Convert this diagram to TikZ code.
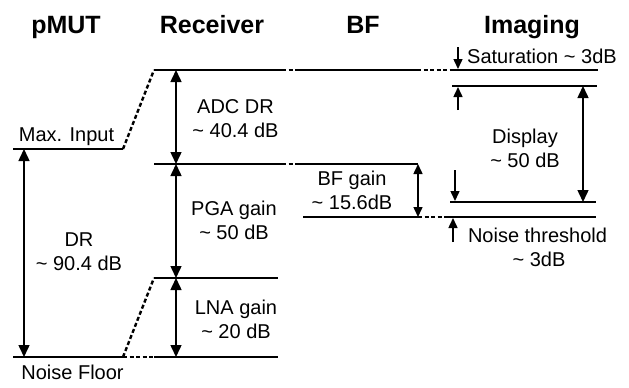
\documentclass[tikz,border=0pt]{standalone}
\usepackage{fontspec}
\setmainfont{Liberation Sans}
\usetikzlibrary{arrows.meta}
\begin{document}
\begin{tikzpicture}[x=1pt,y=-1pt,
  lvl/.style={line width=2.4pt},
  gapline/.style={line width=2.4pt, dash pattern=on 4pt off 2.5pt},
  dim/.style={line width=1.5pt, {Triangle[length=12pt,width=11pt]}-{Triangle[length=12pt,width=11pt]}},
  smalldim/.style={line width=1.5pt, {Triangle[length=10pt,width=9pt]}-{Triangle[length=10pt,width=9pt]}},
  ptr/.style={line width=1.5pt, -{Triangle[length=10pt,width=9pt]}},
  lbl/.style={font=\fontsize{20}{24}\selectfont, inner sep=0pt, anchor=base},
  hdr/.style={font=\bfseries\fontsize{25}{30}\selectfont, inner sep=0pt, anchor=base}]
\useasboundingbox (0,0) rectangle (629,388);

% level end points
\coordinate (maxL) at (13,149);   \coordinate (maxR) at (123,149);
\coordinate (nfL) at (13,357);    \coordinate (nfR) at (123,357);
\coordinate (rxTopL) at (154,70); \coordinate (rxTopR) at (282,70);
\coordinate (bfTopL) at (299,70); \coordinate (bfTopR) at (417,70);
\coordinate (satL) at (452,70);   \coordinate (satR) at (598,70);
\coordinate (imHiL) at (452,86);  \coordinate (imHiR) at (597,86);
\coordinate (rxMidL) at (154,164);\coordinate (rxMidR) at (282,164);
\coordinate (bfHiL) at (299,164); \coordinate (bfHiR) at (418,164);
\coordinate (imLoL) at (450,202); \coordinate (imLoR) at (596,202);
\coordinate (bfLoL) at (303,217); \coordinate (bfLoR) at (418,217);
\coordinate (ntL) at (447,217);   \coordinate (ntR) at (596,217);
\coordinate (lnaL) at (154,278);  \coordinate (lnaR) at (278,278);
\coordinate (rxBotL) at (154,357);\coordinate (rxBotR) at (278,357);

% arrow end points
\coordinate (drT) at (24,149);   \coordinate (drB) at (24,357);
\coordinate (adcT) at (176,70);  \coordinate (adcB) at (176,164);
\coordinate (pgaB) at (176,278); \coordinate (lnaB) at (176,357);
\coordinate (dispT) at (583,86); \coordinate (dispB) at (583,202);
\coordinate (satTail) at (458,47);  \coordinate (satTip) at (458,69);
\coordinate (hiTail) at (458,110);  \coordinate (hiTip) at (458,87);
\coordinate (loTail) at (455,170);  \coordinate (loTip) at (455,201);
\coordinate (ntTail) at (453,242);  \coordinate (ntTip) at (453,218);

% solid levels
\draw[lvl] (maxL) -- (maxR);
\draw[lvl] (nfL) -- (nfR);
\draw[lvl] (rxTopL) -- (rxTopR);
\draw[lvl] (bfTopL) -- (bfTopR);
\draw[lvl] (satL) -- (satR);
\draw[lvl] (imHiL) -- (imHiR);
\draw[lvl] (rxMidL) -- (rxMidR);
\draw[lvl] (bfHiL) -- (bfHiR);
\draw[lvl] (imLoL) -- (imLoR);
\draw[lvl] (bfLoL) -- (bfLoR);
\draw[lvl] (ntL) -- (ntR);
\draw[lvl] (lnaL) -- (lnaR);
\draw[lvl] (rxBotL) -- (rxBotR);

% dashed links
\draw[gapline] (maxR) -- (rxTopL);
\draw[gapline] (nfR) -- (lnaL);
\draw[gapline] (nfR) -- (rxBotL);
\draw[gapline] (rxTopR) -- (bfTopL);
\draw[gapline] (bfTopR) -- (satL);
\draw[gapline] (rxMidR) -- (bfHiL);
\draw[gapline] (bfLoR) -- (ntL);

% dimension arrows
\draw[dim] (drT) -- (drB);
\draw[dim] (adcT) -- (adcB);
\draw[dim] (adcB) -- (pgaB);
\draw[dim] (pgaB) -- (lnaB);
\draw[smalldim] (bfHiR) -- (bfLoR);
\draw[dim] (dispT) -- (dispB);
\draw[ptr] (satTail) -- (satTip);
\draw[ptr] (hiTail) -- (hiTip);
\draw[ptr] (loTail) -- (loTip);
\draw[ptr] (ntTail) -- (ntTip);

% headers
\node[hdr] (hPmut) at (66,33) {pMUT};
\node[hdr] (hRx) at (212,33) {Receiver};
\node[hdr] (hBf) at (363,33) {BF};
\node[hdr] (hImg) at (532,33) {Imaging};

% labels
\node[lbl] (tMax) at (66.5,141) {Max. Input};
\node[lbl] (tNf) at (72.5,379) {Noise Floor};
\node[lbl] (tDr1) at (79,246) {DR};
\node[lbl] (tDr2) at (79,270) {\textasciitilde{} 90.4 dB};
\node[lbl] (tAdc1) at (235.5,113) {ADC DR};
\node[lbl] (tAdc2) at (235.5,137) {\textasciitilde{} 40.4 dB};
\node[lbl] (tPga1) at (234,215) {PGA gain};
\node[lbl] (tPga2) at (234,239) {\textasciitilde{} 50 dB};
\node[lbl] (tLna1) at (236,314) {LNA gain};
\node[lbl] (tLna2) at (236,338) {\textasciitilde{} 20 dB};
\node[lbl] (tBf1) at (352,185) {BF gain};
\node[lbl] (tBf2) at (352,209) {\textasciitilde{} 15.6dB};
\node[lbl] (tDisp1) at (525,143) {Display};
\node[lbl] (tDisp2) at (525,167) {\textasciitilde{} 50 dB};
\node[lbl, anchor=base west] (tSat) at (467,63) {Saturation \textasciitilde{} 3dB};
\node[lbl] (tNt1) at (537.5,242) {Noise threshold};
\node[lbl] (tNt2) at (539,266) {\textasciitilde{} 3dB};
\end{tikzpicture}
\end{document}
